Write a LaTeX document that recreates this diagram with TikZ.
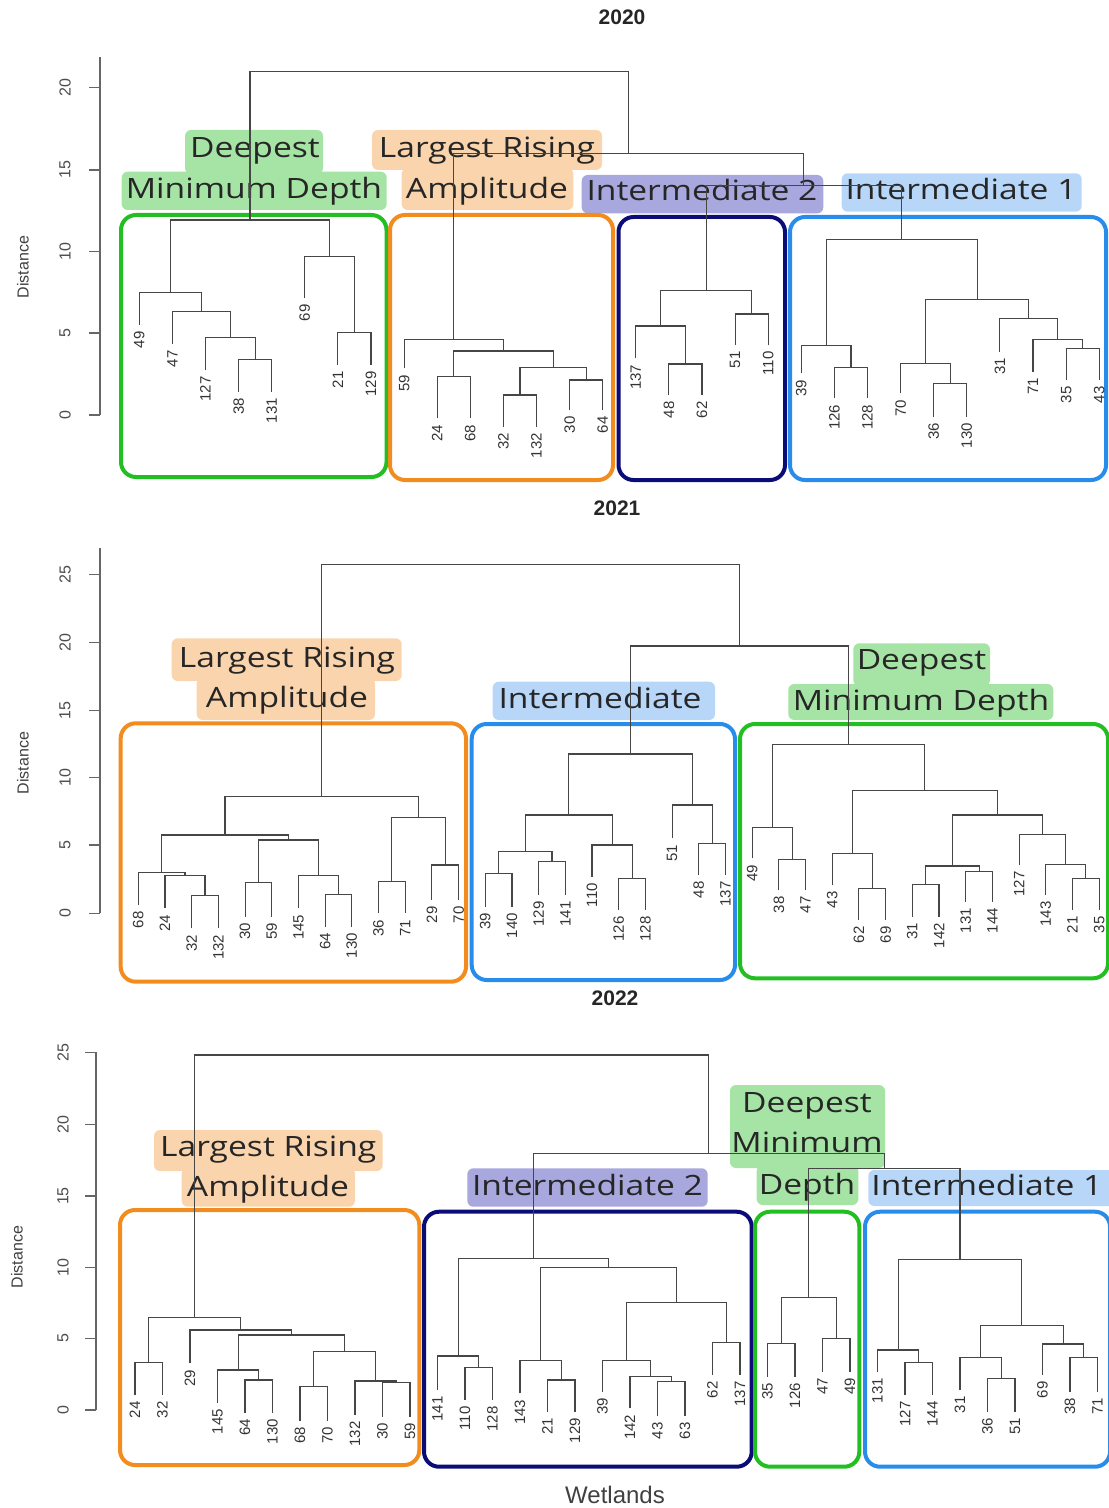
\documentclass[tikz,border=0pt]{standalone}
\usepackage{fontspec}
\setmainfont{Liberation Sans}
\newfontfamily\clusterfont[FakeStretch=1.2]{Open Sans}
\usetikzlibrary{calc}

\definecolor{dendgray}{RGB}{70,70,70}
\definecolor{grpgreen}{RGB}{34,190,34}
\definecolor{grporange}{RGB}{242,140,30}
\definecolor{grpnavy}{RGB}{12,12,120}
\definecolor{grpblue}{RGB}{40,140,235}
\definecolor{hlgreen}{RGB}{165,228,165}
\definecolor{hlorange}{RGB}{250,212,172}
\definecolor{hlnavy}{RGB}{168,168,222}
\definecolor{hlblue}{RGB}{184,214,248}

\tikzset{
  dline/.style={draw=dendgray, line width=0.55pt},
  leaf/.style={rotate=90, anchor=east, inner sep=0pt, font=\fontsize{7.5}{8}\selectfont, text=black!80},
  tick/.style={rotate=90, inner sep=0pt, font=\fontsize{8}{9}\selectfont, text=black!70},
  axis/.style={draw=black!60, line width=0.6pt},
  grpbox/.style={line width=2pt, rounded corners=7.5pt},
  hl/.style={rounded corners=3pt},
  grplabel/.style={font=\clusterfont\fontsize{14}{16}\selectfont, text=black!85, inner sep=0pt, text height=10.5pt, text depth=3pt},
  title/.style={font=\bfseries\fontsize{10.5}{12}\selectfont, text=black!85},
  ylab/.style={rotate=90, font=\fontsize{8}{9}\selectfont, text=black!75},
}

% merge two subtrees #1,#2 into #3 at height #4
\newcommand{\dmerge}[4]{%
  \path let \p1=($(#1)!0.5!(#2)$), \p2=(0,#4) in coordinate (#3) at (\x1,\y2);
  \draw[dline] (#1) |- (#3) -| (#2);
}

\begin{document}
\begin{tikzpicture}[x=0.5pt,y=-0.5pt]
                        \useasboundingbox (0,0) rectangle (1108,1508);

                        % ---------------- 2020 ----------------
                        \node[title] (t2020) at (622,17) {2020};
                        % labels
                        \fill[hlgreen,hl] (185,130) rectangle (323,174);
                        \fill[hlgreen,hl] (121.7,171.7) rectangle (386.7,210);
                        \node[grplabel] (aLG1) at (255,150) {Deepest};
                        \node[grplabel] (aLG2) at (254,191) {Minimum Depth};
                        \fill[hlorange,hl] (372,130) rectangle (602,170);
                        \fill[hlorange,hl] (401.7,168) rectangle (573.3,210);
                        \node[grplabel] (aLO1) at (487,150) {Largest Rising};
                        \node[grplabel] (aLO2) at (487,191) {Amplitude};
                        \fill[hlnavy,hl] (581.7,175) rectangle (823.3,213.3);
                        \node[grplabel] (aLN) at (702,193) {Intermediate 2};
                        \fill[hlblue,hl] (841.7,173.3) rectangle (1081.7,211.7);
                        \node[grplabel] (aLB) at (961,192) {Intermediate 1};
                        % boxes
                        \draw[grpbox,grpgreen] (121,215) rectangle (386.5,477);
                        \draw[grpbox,grporange] (390,215) rectangle (613,480);
                        \draw[grpbox,grpnavy] (618.5,217) rectangle (785,480);
                        \draw[grpbox,grpblue] (790,217) rectangle (1106,480);
                        % axis
                        \node[ylab] (aY) at (23,267) {Distance};
                        \draw[axis] (100,57) -- (100,415);
                        \foreach \v/\y in {20/87.7,15/170,10/251.7,5/333,0/415} {
                          \draw[axis] (89,\y) -- (100,\y);
                          \node[tick] (aT\v) at (65,\y) {\v};
                        }
                        % leaves
                        \foreach \n/\y [count=\i from 0] in {49/325,47/344,127/370,38/391.7,131/391.7,69/298,21/365,129/365,
                            59/368.3,24/418.3,68/418.3,32/426.7,132/426.7,30/410,64/410,
                            137/358.3,48/395,62/395,51/345,110/345,
                            39/373.3,126/398.3,128/398.3,70/393.3,36/416.7,130/416.7,31/351.7,71/371.7,35/380,43/380} {
                          \coordinate (a\n) at ({139.3+33.1*\i},\y);
                          \node[leaf] (la\n) at ({139.3+33.1*\i},{\y+6}) {\n};
                        }
                        % links
                        \dmerge{a38}{a131}{am1}{359.3}
                        \dmerge{a127}{am1}{am2}{337.7}
                        \dmerge{a47}{am2}{am3}{311.7}
                        \dmerge{a49}{am3}{am4}{292.3}
                        \dmerge{a21}{a129}{am5}{332.3}
                        \dmerge{a69}{am5}{am6}{256.7}
                        \dmerge{am4}{am6}{aG}{220}
                        \dmerge{a24}{a68}{am7}{376.7}
                        \dmerge{a32}{a132}{am8}{395}
                        \dmerge{a30}{a64}{am9}{380}
                        \dmerge{am8}{am9}{am10}{367.7}
                        \dmerge{am7}{am10}{am11}{351}
                        \dmerge{a59}{am11}{aO}{339.3}
                        \dmerge{a48}{a62}{am12}{364}
                        \dmerge{a137}{am12}{am13}{326}
                        \dmerge{a51}{a110}{am14}{314}
                        \dmerge{am13}{am14}{aN}{290.7}
                        \dmerge{a126}{a128}{am15}{367.7}
                        \dmerge{a39}{am15}{am16}{345.7}
                        \dmerge{a36}{a130}{am17}{383.3}
                        \dmerge{a70}{am17}{am18}{363.3}
                        \dmerge{a35}{a43}{am19}{348.3}
                        \dmerge{a71}{am19}{am20}{339.3}
                        \dmerge{a31}{am20}{am21}{318.3}
                        \dmerge{am18}{am21}{am22}{299.3}
                        \dmerge{am16}{am22}{aB}{239.3}
                        \dmerge{aN}{aB}{aNB}{185.7}
                        \dmerge{aO}{aNB}{aONB}{153.3}
                        \dmerge{aG}{aONB}{atop}{71.7}

                        % ---------------- 2021 ----------------
                        \node[title] (t2021) at (617,508) {2021};
                        % labels
                        \fill[hlorange,hl] (171.7,638.3) rectangle (401.7,681);
                        \fill[hlorange,hl] (196.7,678) rectangle (375,720);
                        \node[grplabel] (bLO1) at (287,660) {Largest Rising};
                        \node[grplabel] (bLO2) at (287,700) {Amplitude};
                        \fill[hlblue,hl] (492.7,681.7) rectangle (715,720);
                        \node[grplabel] (bLB) at (600,701) {Intermediate};
                        \fill[hlgreen,hl] (853.3,643.3) rectangle (990,686);
                        \fill[hlgreen,hl] (788.3,684) rectangle (1053.3,720);
                        \node[grplabel] (bLG1) at (921.5,662.3) {Deepest};
                        \node[grplabel] (bLG2) at (921,703.3) {Minimum Depth};
                        % boxes
                        \draw[grpbox,grporange] (120.7,723.3) rectangle (466,981.7);
                        \draw[grpbox,grpblue] (471.7,724) rectangle (735,980);
                        \draw[grpbox,grpgreen] (740,724) rectangle (1108,978.3);
                        % axis
                        \node[ylab] (bY) at (23,763) {Distance};
                        \draw[axis] (100,548.3) -- (100,913.3);
                        \foreach \v/\y in {25/574.3,20/642.7,15/710.7,10/777.3,5/845,0/913.3} {
                          \draw[axis] (89,\y) -- (100,\y);
                          \node[tick] (bT\v) at (65,\y) {\v};
                        }
                        % leaves
                        \foreach \n/\y [count=\i from 0] in {68/905,24/908.3,32/928.3,132/928.3,30/916.7,59/916.7,145/908.3,64/926.7,130/926.7,36/913.3,71/913.3,29/900,70/900,
                            39/906.7,140/906.7,129/895,141/895,110/876.7,126/910,128/910,51/838.3,48/875,137/875,
                            49/858.3,38/890,47/890,43/885,62/920,69/920,31/916.7,142/916.7,131/901.7,144/901.7,127/865,143/895,21/910,35/910} {
                          \coordinate (b\n) at ({138.3+26.69*\i},\y);
                          \node[leaf] (lb\n) at ({138.3+26.69*\i},{\y+6}) {\n};
                        }
                        % links
                        \dmerge{b32}{b132}{bm1}{895.7}
                        \dmerge{b24}{bm1}{bm2}{875.7}
                        \dmerge{b68}{bm2}{bm3}{872.3}
                        \dmerge{b30}{b59}{bm4}{882.7}
                        \dmerge{b64}{b130}{bm5}{894.3}
                        \dmerge{b145}{bm5}{bm6}{875.7}
                        \dmerge{bm4}{bm6}{bm7}{840}
                        \dmerge{bm3}{bm7}{bm8}{835}
                        \dmerge{b36}{b71}{bm9}{881.7}
                        \dmerge{b29}{b70}{bm10}{865}
                        \dmerge{bm9}{bm10}{bm11}{817.3}
                        \dmerge{bm8}{bm11}{bO}{796.7}
                        \dmerge{b39}{b140}{bm12}{873.3}
                        \dmerge{b129}{b141}{bm13}{861.7}
                        \dmerge{bm12}{bm13}{bm14}{851.7}
                        \dmerge{b126}{b128}{bm15}{878.3}
                        \dmerge{b110}{bm15}{bm16}{845}
                        \dmerge{bm14}{bm16}{bm17}{815}
                        \dmerge{b48}{b137}{bm18}{843.3}
                        \dmerge{b51}{bm18}{bm19}{805}
                        \dmerge{bm17}{bm19}{bB}{754}
                        \dmerge{b38}{b47}{bm20}{859.3}
                        \dmerge{b49}{bm20}{bm21}{827.3}
                        \dmerge{b62}{b69}{bm22}{888.3}
                        \dmerge{b43}{bm22}{bm23}{853.3}
                        \dmerge{b31}{b142}{bm24}{884.3}
                        \dmerge{b131}{b144}{bm25}{871.7}
                        \dmerge{bm24}{bm25}{bm26}{866}
                        \dmerge{b21}{b35}{bm27}{878.3}
                        \dmerge{b143}{bm27}{bm28}{864.3}
                        \dmerge{b127}{bm28}{bm29}{834.3}
                        \dmerge{bm26}{bm29}{bm30}{815}
                        \dmerge{bm23}{bm30}{bm31}{790.7}
                        \dmerge{bm21}{bm31}{bG}{744.3}
                        \dmerge{bB}{bG}{bBG}{646}
                        \dmerge{bO}{bBG}{btop}{564.3}

                        % ---------------- 2022 ----------------
                        \node[title] (t2022) at (615,998) {2022};
                        % labels
                        \fill[hlorange,hl] (154,1130) rectangle (382.7,1171);
                        \fill[hlorange,hl] (181.7,1168) rectangle (355,1206.7);
                        \node[grplabel] (cLO1) at (268.3,1149.3) {Largest Rising};
                        \node[grplabel] (cLO2) at (268,1189.3) {Amplitude};
                        \fill[hlnavy,hl] (467.3,1168.3) rectangle (707.7,1206.7);
                        \node[grplabel] (cLN) at (587.5,1188.3) {Intermediate 2};
                        \fill[hlgreen,hl] (730,1085) rectangle (885,1168);
                        \fill[hlgreen,hl] (756.7,1165) rectangle (858.3,1205);
                        \node[grplabel] (cLG1) at (807,1105) {Deepest};
                        \node[grplabel] (cLG2) at (807,1145) {Minimum};
                        \node[grplabel] (cLG3) at (807,1187) {Depth};
                        \fill[hlblue,hl] (868.3,1170) rectangle (1115,1206);
                        \node[grplabel,anchor=west] (cLB) at (871,1188) {Intermediate 1};
                        % boxes
                        \draw[grpbox,grporange] (120,1210) rectangle (419.3,1465);
                        \draw[grpbox,grpnavy] (424,1211.7) rectangle (751.7,1466.7);
                        \draw[grpbox,grpgreen] (755,1211.7) rectangle (859.3,1466.7);
                        \draw[grpbox,grpblue] (865,1211.7) rectangle (1110,1466.7);
                        % axis
                        \node[ylab] (cY) at (17,1257) {Distance};
                        \draw[axis] (96,1051.7) -- (96,1410);
                        \foreach \v/\y in {25/1052.7,20/1124.3,15/1196,10/1267.7,5/1338.3,0/1410} {
                          \draw[axis] (85,\y) -- (96,\y);
                          \node[tick] (cT\v) at (63,\y) {\v};
                        }
                        % leaves
                        \foreach \n/\y [count=\i from 0] in {24/1395,32/1395,29/1363.3,145/1402.7,64/1412.7,130/1412.7,68/1420.7,70/1420.7,132/1415,30/1416.7,59/1416.7,
                            141/1390,110/1400,128/1400,143/1393.3,21/1411.7,129/1411.7,39/1391.7,142/1408.3,43/1416,63/1416,62/1375,137/1375,
                            35/1376.7,126/1376.7,47/1371.7,49/1371.7,
                            131/1371.7,127/1395,144/1395,31/1390,36/1411.7,51/1411.7,69/1375,38/1391.7,71/1391.7} {
                          \coordinate (c\n) at ({135+27.5*\i},\y);
                          \node[leaf] (lc\n) at ({135+27.5*\i},{\y+6}) {\n};
                        }
                        % links
                        \dmerge{c24}{c32}{cm1}{1362.3}
                        \dmerge{c64}{c130}{cm2}{1380}
                        \dmerge{c145}{cm2}{cm3}{1370}
                        \dmerge{c68}{c70}{cm4}{1386.7}
                        \dmerge{c30}{c59}{cm5}{1382.7}
                        \dmerge{c132}{cm5}{cm6}{1381}
                        \dmerge{cm4}{cm6}{cm7}{1351.7}
                        \dmerge{cm3}{cm7}{cm8}{1335}
                        \dmerge{c29}{cm8}{cm9}{1330}
                        \dmerge{cm1}{cm9}{cO}{1317.3}
                        \dmerge{c110}{c128}{cm10}{1367.3}
                        \dmerge{c141}{cm10}{cm11}{1356}
                        \dmerge{c21}{c129}{cm12}{1380}
                        \dmerge{c143}{cm12}{cm13}{1360.7}
                        \dmerge{c43}{c63}{cm14}{1381.7}
                        \dmerge{c142}{cm14}{cm15}{1376.7}
                        \dmerge{c39}{cm15}{cm16}{1360.7}
                        \dmerge{c62}{c137}{cm17}{1342.7}
                        \dmerge{cm16}{cm17}{cm18}{1302.3}
                        \dmerge{cm13}{cm18}{cm19}{1267.3}
                        \dmerge{cm11}{cm19}{cN}{1258.3}
                        \dmerge{c35}{c126}{cm20}{1343.3}
                        \dmerge{c47}{c49}{cm21}{1338.3}
                        \dmerge{cm20}{cm21}{cG}{1297.7}
                        \dmerge{c127}{c144}{cm22}{1362.7}
                        \dmerge{c131}{cm22}{cm23}{1350}
                        \dmerge{c36}{c51}{cm24}{1378.3}
                        \dmerge{c31}{cm24}{cm25}{1357.7}
                        \dmerge{c38}{c71}{cm26}{1357.7}
                        \dmerge{c69}{cm26}{cm27}{1344}
                        \dmerge{cm25}{cm27}{cm28}{1325.7}
                        \dmerge{cm23}{cm28}{cB}{1259.3}
                        \dmerge{cG}{cB}{cGB}{1168.3}
                        \dmerge{cN}{cGB}{cNGB}{1153.3}
                        \dmerge{cO}{cNGB}{ctop}{1055}

                        \node[font=\fontsize{12}{14}\selectfont, text=black!75] (xlab) at (615,1495) {Wetlands};
\end{tikzpicture}
\end{document}
